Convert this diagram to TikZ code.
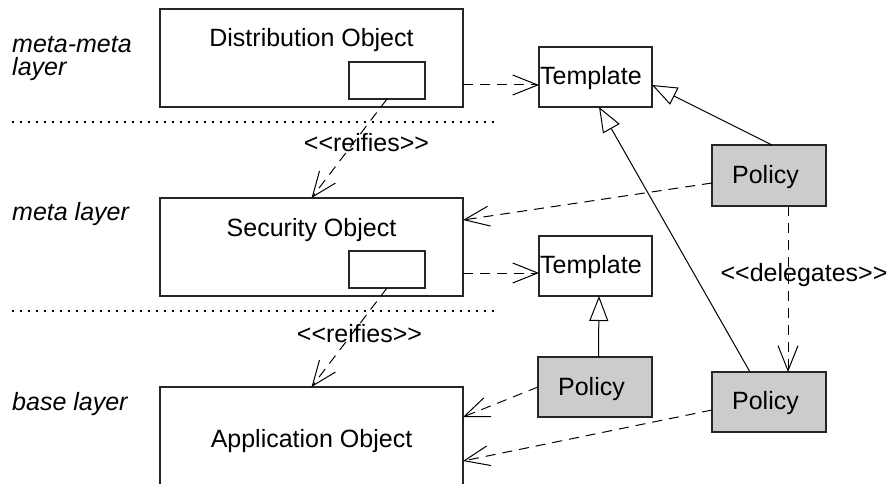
\documentclass[tikz,border=0pt]{standalone}
\usepackage{fontspec}
\setmainfont{Liberation Sans}[Ligatures=TeXOff]
\usetikzlibrary{arrows.meta,calc}
\begin{document}
\begin{tikzpicture}[x=1pt,y=-1pt,
  font=\fontsize{25}{29}\selectfont,
  box/.style={draw=black!85, line width=1.1pt, inner sep=0pt, outer sep=0pt, rectangle},
  bigbox/.style={box, minimum width=303pt, minimum height=98pt},
  tbox/.style={box, minimum width=113pt, minimum height=60pt},
  pbox/.style={box, fill=black!20, minimum width=114pt, minimum height=61pt},
  ibox/.style={box, minimum width=76pt, minimum height=37pt},
  txt/.style={inner sep=0pt, anchor=base},
  ltxt/.style={inner sep=0pt, anchor=base west, font=\fontsize{25}{23}\selectfont\itshape},
  dep/.style={line width=1pt, dash pattern=on 10pt off 7pt,
    -{Straight Barb[length=25pt,width=20pt,line width=1pt]}},
  gen/.style={line width=1pt, -{Triangle[open,length=25pt,width=19pt,line width=1pt,fill=white]}},
  sep/.style={line width=1.2pt, dash pattern=on 1.5pt off 6.5pt}]
\useasboundingbox (0,0) rectangle (889,484);

% boxes
\node[bigbox] (dist) at (311.5,58) {};
\node[ibox] (distin) at (387,80.5) {};
\node[bigbox] (sec) at (311.5,247) {};
\node[ibox] (secin) at (387,269.5) {};
\node[box, minimum width=303pt, minimum height=110pt] (app) at (311.5,442) {};
\node[tbox] (tmplA) at (595.5,77) {};
\node[tbox] (tmplB) at (595.5,266) {};
\node[pbox] (polA) at (769,175.5) {};
\node[pbox, minimum height=60pt] (polB) at (595,387) {};
\node[pbox, minimum height=60pt] (polC) at (769,402) {};

% texts
\node[txt] (tdist) at (311.5,46.7) {Distribution Object};
\node[txt] (tsec) at (311.5,236) {Security Object};
\node[txt] (tapp) at (311.5,447) {Application Object};
\node[txt, anchor=base west] (ttA) at (540,85) {Template};
\node[txt, anchor=base west] (ttB) at (540,273) {Template};
\node[txt] (tpA) at (765.5,183) {Policy};
\node[txt] (tpB) at (591.5,395) {Policy};
\node[txt] (tpC) at (765.5,409) {Policy};

% layer labels
\node[ltxt, align=left] (l1) at (12,76) {meta-meta\\layer};
\node[ltxt] (l2) at (12,220) {meta layer};
\node[ltxt] (l3) at (12,410) {base layer};

% layer separators
\coordinate (s1a) at (12,122);
\coordinate (s1b) at (498,122);
\coordinate (s2a) at (12,311);
\coordinate (s2b) at (498,311);
\draw[sep] (s1a) -- (s1b);
\draw[sep] (s2a) -- (s2b);

% reifies
\draw[dep] (distin.south) -- (sec.north);
\draw[dep] (secin.south) -- (app.north);
\node[txt] (r1) at (366.5,152) {<<reifies>>};
\node[txt] (r2) at (359.5,342) {<<reifies>>};

% dependencies to templates
\coordinate (ta) at ([yshift=-8pt]tmplA.west);
\coordinate (tb) at ([yshift=-7pt]tmplB.west);
\draw[dep] (dist.east |- ta) -- (ta);
\draw[dep] (sec.east |- tb) -- (tb);

% generalizations
\draw[gen] ([xshift=3pt]polA.north) -- ([yshift=-8pt]tmplA.east);
\draw[gen] ([xshift=-19pt]polC.north) -- ([xshift=3.5pt]tmplA.south);
\draw[gen] ([xshift=3.5pt]polB.north) -- ([xshift=3.5pt]tmplB.south);

% policy dependencies
\draw[dep] ([yshift=-7.5pt]polA.west) -- ([yshift=27pt]sec.east);
\draw[dep] ([xshift=19pt]polA.south) -- ([xshift=19pt]polC.north);
\node[txt] (dl) at (804,281) {<<delegates>>};
\draw[dep] (polB.west) -- ([yshift=-30pt]app.north east);
\draw[dep] ([yshift=-8pt]polC.west) -- ([yshift=-74pt]app.north east);
\end{tikzpicture}
\end{document}
